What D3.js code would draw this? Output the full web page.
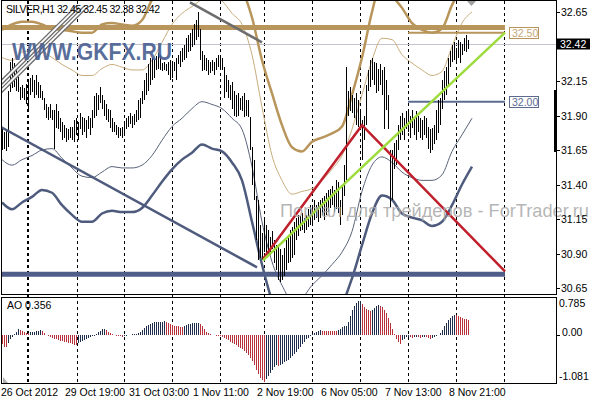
<!DOCTYPE html>
<html><head><meta charset="utf-8">
<script src="https://cdn.jsdelivr.net/npm/d3@7"></script>
<style>
html,body{margin:0;padding:0;background:#fff;}
svg{display:block;}
text{font-family:"Liberation Sans",Arial,sans-serif;}
</style></head><body>
<svg id="c" width="596" height="400"></svg>
<script>
// ---------- DATA ----------
const symbolTitle = "SILVER,H1  32.45 32.45 32.38 32.42";
const aoTitle = "AO 0.356";
const highs = [
31.81,31.78,31.80,32.08,32.29,32.32,32.28,32.23,32.18,32.11,
32.12,32.10,32.13,32.16,32.17,32.19,32.16,32.19,32.14,32.12,
32.08,32.03,31.98,31.96,31.98,31.94,31.94,31.98,31.93,31.88,
31.85,31.83,31.81,31.80,31.82,31.82,31.87,31.88,31.85,31.92,
31.89,31.88,31.87,31.90,31.88,31.94,32.04,32.06,32.05,32.11,
32.05,32.01,31.98,31.95,31.94,31.88,31.85,31.83,31.82,31.81,
31.82,31.85,31.88,31.90,31.92,31.90,31.91,31.94,32.01,32.03,
32.08,32.16,32.21,32.27,32.32,32.32,32.30,32.33,32.35,32.34,
32.28,32.29,32.27,32.29,32.30,32.27,32.29,32.32,32.34,32.37,
32.39,32.41,32.46,32.48,32.50,32.53,32.56,32.59,32.65,32.53,
32.37,32.34,32.32,32.30,32.29,32.30,32.29,32.32,32.34,32.32,
32.32,32.25,32.19,32.16,32.12,32.14,32.08,32.05,32.06,32.03,
32.04,32.06,32.01,32.01,31.89,31.67,31.58,31.32,31.29,31.11,
31.05,31.14,31.11,31.07,31.02,31.06,31.00,30.96,30.95,30.93,
30.89,30.94,31.00,31.03,31.07,31.09,31.13,31.16,31.18,31.17,
31.19,31.16,31.18,31.22,31.25,31.23,31.29,31.25,31.27,31.29,
31.30,31.32,31.34,31.36,31.37,31.39,31.36,31.43,31.42,31.29,
31.40,31.54,32.25,32.08,32.11,32.05,32.03,32.06,32.01,31.94,
31.87,31.90,32.12,32.23,32.30,32.32,32.29,32.28,32.24,32.27,
32.23,32.25,32.16,32.05,31.65,31.65,31.70,31.72,31.83,31.90,
31.92,31.88,31.93,31.94,31.90,31.94,31.88,31.93,31.90,31.88,
31.87,31.90,31.88,31.82,31.80,31.81,31.83,31.94,32.01,32.03,
32.16,32.22,32.25,32.32,32.37,32.41,32.43,32.39,32.45,32.43,
32.42,32.46,32.48,32.45];
const lows = [
31.65,31.66,31.64,31.67,32.07,32.10,32.11,32.08,32.07,32.01,
32.03,32.01,31.98,31.94,32.05,32.07,32.03,32.05,32.03,32.03,
32.01,31.94,31.88,31.87,31.88,31.87,31.66,31.81,31.80,31.78,
31.72,31.74,31.71,31.72,31.74,31.72,31.71,31.76,31.72,31.80,
31.76,31.78,31.74,31.80,31.76,31.81,31.88,31.90,31.94,31.99,
31.95,31.90,31.87,31.85,31.81,31.78,31.78,31.76,31.74,31.75,
31.74,31.75,31.80,31.82,31.84,31.81,31.83,31.85,31.87,31.88,
31.98,32.01,32.05,32.08,32.12,32.16,32.17,32.23,32.24,32.23,
32.22,32.23,32.22,32.19,32.16,32.17,32.22,32.16,32.27,32.25,
32.29,32.30,32.32,32.36,32.37,32.40,32.41,32.45,32.47,32.30,
32.22,32.23,32.22,32.19,32.21,32.22,32.19,32.23,32.25,32.24,
32.23,32.03,32.07,32.03,32.01,31.95,31.90,31.89,31.90,31.94,
31.93,31.89,31.90,31.89,31.65,31.40,31.29,31.00,30.85,30.87,
30.85,30.91,30.89,30.90,30.89,30.93,30.83,30.78,30.71,30.69,
30.71,30.74,30.78,30.83,30.84,30.87,30.89,31.00,31.03,31.06,
31.07,31.05,31.07,31.09,31.11,31.10,31.14,31.16,31.13,31.16,
31.18,31.14,31.18,31.20,31.23,31.25,31.20,31.22,31.19,31.11,
31.18,31.32,31.43,31.90,31.93,31.92,31.88,31.83,31.82,31.80,
31.58,31.72,31.83,32.08,32.11,32.16,32.12,32.06,32.08,32.12,
32.05,31.80,31.94,31.80,31.24,31.29,31.51,31.54,31.65,31.72,
31.76,31.72,31.80,31.78,31.74,31.81,31.76,31.72,31.78,31.74,
31.72,31.76,31.74,31.66,31.63,31.65,31.69,31.72,31.77,31.83,
31.95,32.01,32.05,32.12,32.25,32.29,32.30,32.28,32.32,32.28,
32.34,32.37,32.36,32.38];
const aoValues = [
-0.20,-0.27,-0.28,-0.18,-0.10,-0.04,0.03,0.08,0.13,0.12,
0.09,0.07,0.05,0.04,0.06,0.07,0.08,0.09,0.10,0.11,
0.09,0.05,0.01,-0.02,-0.04,-0.06,-0.08,-0.10,-0.12,-0.13,
-0.14,-0.15,-0.16,-0.18,-0.19,-0.20,-0.22,-0.24,-0.19,-0.16,
-0.13,-0.11,-0.09,-0.07,-0.05,-0.03,-0.01,0.02,0.06,0.10,
0.13,0.14,0.12,0.07,0.04,0.02,0.01,-0.01,-0.02,-0.03,
-0.04,-0.02,-0.01,0.00,0.01,0.015,0.02,0.03,0.05,0.08,
0.12,0.17,0.21,0.24,0.26,0.28,0.29,0.295,0.30,0.305,
0.31,0.315,0.29,0.27,0.25,0.23,0.22,0.21,0.20,0.195,
0.19,0.21,0.23,0.25,0.26,0.27,0.275,0.28,0.285,0.26,
0.20,0.14,0.08,0.04,0.02,0.01,0.00,-0.01,-0.02,-0.03,
-0.04,-0.06,-0.09,-0.12,-0.15,-0.18,-0.21,-0.24,-0.27,-0.30,
-0.33,-0.37,-0.41,-0.46,-0.52,-0.60,-0.70,-0.80,-0.90,-0.98,
-1.04,-1.081,-1.02,-0.95,-0.88,-0.80,-0.74,-0.70,-0.71,-0.68,
-0.66,-0.63,-0.60,-0.57,-0.53,-0.49,-0.44,-0.39,-0.33,-0.27,
-0.21,-0.15,-0.10,-0.06,-0.02,0.02,0.05,0.08,0.10,0.11,
0.10,0.095,0.09,0.088,0.086,0.085,0.084,0.083,0.12,0.15,
0.18,0.20,0.21,0.30,0.45,0.58,0.68,0.74,0.78,0.785,
0.72,0.65,0.60,0.57,0.56,0.58,0.63,0.67,0.69,0.68,
0.64,0.58,0.50,0.40,0.28,0.15,0.03,-0.08,-0.16,-0.20,
-0.12,-0.08,-0.05,-0.04,-0.05,-0.06,-0.05,-0.04,-0.05,-0.06,
-0.05,-0.04,-0.05,-0.06,-0.08,-0.07,-0.05,-0.03,0.00,0.05,
0.12,0.20,0.28,0.35,0.40,0.44,0.47,0.46,0.43,0.41,
0.39,0.38,0.37,0.356];
// envelope lines sampled every 5 bars
const bandIdx = d3.range(0, 240, 5);
const upperWide = [32.52,32.56,32.58,32.58,32.56,32.53,32.52,32.51,32.50,32.50,32.56,32.57,32.56,32.55,32.59,32.74,32.85,32.92,32.95,32.99,33.01,32.99,32.95,32.88,32.81,32.61,32.30,32.06,31.83,31.67,31.64,31.71,31.74,31.77,31.82,32.05,32.32,32.65,32.88,32.77,32.68,32.57,32.52,32.50,32.53,32.70,32.82,32.88];
const upperNarrow = [32.32,32.30,32.36,32.37,32.36,32.32,32.27,32.23,32.19,32.19,32.24,32.27,32.25,32.23,32.23,32.30,32.43,32.56,32.64,32.69,32.74,32.76,32.73,32.64,32.56,32.34,31.96,31.61,31.43,31.33,31.35,31.37,31.43,31.51,31.61,31.80,32.05,32.30,32.46,32.45,32.34,32.28,32.23,32.19,32.22,32.40,32.57,32.65];
const lowerNarrow = [31.58,31.54,31.58,31.61,31.65,31.66,31.59,31.52,31.46,31.45,31.49,31.53,31.52,31.52,31.54,31.61,31.72,31.82,31.88,31.95,32.00,31.98,31.95,31.88,31.80,31.53,31.13,30.84,30.67,30.56,30.58,30.67,30.74,30.82,30.91,31.06,31.35,31.54,31.60,31.56,31.49,31.45,31.43,31.43,31.47,31.64,31.76,31.88];
const lowerWide = [31.27,31.22,31.27,31.31,31.36,31.34,31.25,31.18,31.13,31.13,31.19,31.21,31.20,31.20,31.23,31.32,31.42,31.51,31.58,31.63,31.69,31.66,31.64,31.56,31.43,31.13,30.82,30.56,30.42,30.35,30.35,30.38,30.42,30.45,30.53,30.72,30.96,31.19,31.32,31.29,31.19,31.16,31.14,31.10,31.13,31.25,31.40,31.53];
// day separators (bar index)
const separators = [12.5, 13, 37.5, 61, 85, 109, 131, 155, 179, 203, 227, 251];
const timeTickIdx = [0, 32, 64, 96, 128, 160, 192, 224];
const timeTickLabels = ["26 Oct 2012","29 Oct 19:00","31 Oct 03:00","1 Nov 11:00","2 Nov 19:00","6 Nov 05:00","7 Nov 13:00","8 Nov 21:00"];
const priceTicks = [32.65, 32.15, 31.90, 31.65, 31.40, 31.15, 30.90, 30.65];
const aoTicks = [0.785, 0.00, -1.081];
const aoTickLabels = ["0.785", "0.00", "-1.081"];
const lastPrice = 32.42;
const bandLevel = 32.537, supportLevel = 30.75;
const labeledLevels = [32.50, 32.00];
const labeledLevelStart = 203, levelEnd = 251.5;
// trend objects: [index, price] endpoints
const greenLine = [[130.5, 30.85], [251.5, 32.50]];
const redLine = [[130.5, 30.86], [180, 31.83], [251.5, 30.77]];
const blueTrend = [[-1, 31.82], [127.5, 30.80]];
const grayTrend = [[94, 32.72], [130, 32.43]];
const channel1 = [[-1, 32.13], [38, 32.69]];
const channel2 = [[-1, 32.07], [42, 32.69]];

// ---------- CHART ----------
const svg = d3.select("#c");
const x = d3.scaleLinear().domain([0, 277]).range([2, 556]);
const y = d3.scaleLinear().domain([30.65, 32.65]).range([288, 12]);
const ya = d3.scaleLinear().domain([-1.081, 0.785]).range([382, 301]);
const px = i => Math.round(x(i)) + 0.5;

const TAN = "#b8955a", TAN_L = "#c9ad7e", BLUE = "#4e5b7d", BLUE_L = "#59637a";

const defs = svg.append("defs");
defs.append("clipPath").attr("id","cm").append("rect").attr("x",2).attr("y",1).attr("width",554).attr("height",294);
defs.append("clipPath").attr("id","ca").append("rect").attr("x",2).attr("y",298).attr("width",554).attr("height",85);

svg.append("rect").attr("width",596).attr("height",400).attr("fill","#fff");

// separators
svg.append("g").selectAll("line").data(separators).join("line")
  .attr("x1", d => px(d)).attr("x2", d => px(d)).attr("y1", 1).attr("y2", 383)
  .attr("stroke","#000").attr("stroke-width",1).attr("stroke-dasharray","3,3");

const main = svg.append("g").attr("clip-path","url(#cm)");

// bid line
main.append("line").attr("x1",2).attr("x2",556).attr("y1",Math.round(y(lastPrice))+0.5).attr("y2",Math.round(y(lastPrice))+0.5)
  .attr("stroke","#c4c4d0").attr("stroke-width",1);

// envelopes
const bandLine = arr => d3.line().x((d,i)=>x(bandIdx[i])).y(d=>y(d)).curve(d3.curveMonotoneX)(arr);
main.append("path").attr("d", bandLine(upperNarrow)).attr("fill","none").attr("stroke",TAN_L).attr("stroke-width",1);
main.append("path").attr("d", bandLine(lowerNarrow)).attr("fill","none").attr("stroke",BLUE_L).attr("stroke-width",1);
main.append("path").attr("d", bandLine(upperWide)).attr("fill","none").attr("stroke",TAN).attr("stroke-width",2.5);
main.append("path").attr("d", bandLine(lowerWide)).attr("fill","none").attr("stroke",BLUE).attr("stroke-width",2.5);

// horizontal levels
main.append("line").attr("x1",x(-1)).attr("x2",x(levelEnd)).attr("y1",y(bandLevel)).attr("y2",y(bandLevel))
  .attr("stroke",TAN).attr("stroke-width",5);
main.append("line").attr("x1",x(-1)).attr("x2",x(levelEnd)).attr("y1",y(supportLevel)).attr("y2",y(supportLevel))
  .attr("stroke","#4f5d88").attr("stroke-width",5);
const lvlColors = [TAN, "#5d6b8e"];
main.selectAll(".lvl").data(labeledLevels).join("line")
  .attr("x1",x(labeledLevelStart)).attr("x2",x(levelEnd)).attr("y1",d=>y(d)).attr("y2",d=>y(d))
  .attr("stroke",(d,i)=>lvlColors[i]).attr("stroke-width",2);

// price bars
main.append("g").selectAll("line").data(highs).join("line")
  .attr("x1",(d,i)=>px(i)).attr("x2",(d,i)=>px(i))
  .attr("y1",d=>y(d)).attr("y2",(d,i)=>y(lows[i]))
  .attr("stroke","#000").attr("stroke-width",1).attr("shape-rendering","crispEdges");

// trend objects
const tl = d3.line().x(d=>x(d[0])).y(d=>y(d[1]));
[channel1, channel2].forEach(c => {
  main.append("path").attr("d", tl(c)).attr("stroke","#6e6e6e").attr("stroke-width",4.5).attr("fill","none");
  main.append("path").attr("d", tl(c)).attr("stroke","#fff").attr("stroke-width",1.8).attr("fill","none");
});
main.append("path").attr("d", tl(blueTrend)).attr("stroke",BLUE).attr("stroke-width",2.5).attr("fill","none");
main.append("path").attr("d", tl(grayTrend)).attr("stroke","#6d6d6d").attr("stroke-width",2.5).attr("fill","none");
main.append("path").attr("d", tl(redLine)).attr("stroke","#c0202c").attr("stroke-width",2.5).attr("fill","none");
main.append("path").attr("d", tl(greenLine)).attr("stroke","#9ddc3c").attr("stroke-width",2.5).attr("fill","none");

// watermarks
main.append("text").attr("x",12).attr("y",60).attr("font-size",23).attr("font-weight","bold")
  .attr("fill","#4a5f92").attr("fill-opacity",0.92).attr("textLength",160).attr("lengthAdjust","spacingAndGlyphs")
  .text("WWW.GKFX.RU");
svg.append("text").attr("x",280).attr("y",217).attr("font-size",19)
  .attr("fill","#a8a8a8").attr("fill-opacity",0.85).attr("textLength",309).attr("lengthAdjust","spacingAndGlyphs")
  .text("Портал для трейдеров - ForTrader.ru");

// title
svg.append("text").attr("x",6).attr("y",13).attr("font-size",10.5).attr("fill","#000")
  .attr("textLength",154).attr("lengthAdjust","spacing").text(symbolTitle);

// chart shift marker
svg.append("path").attr("d", `M${x(232.5)},1 L${x(237)},1 L${x(234.75)},6 Z`).attr("fill","#a0a0a0");

// level labels
labeledLevels.forEach((v,i) => {
  const g = svg.append("g");
  g.append("rect").attr("x",x(levelEnd)+4.5).attr("y",Math.round(y(v))-5.5).attr("width",29).attr("height",11)
    .attr("fill","#fff").attr("stroke",lvlColors[i]).attr("stroke-width",1);
  g.append("text").attr("x",x(levelEnd)+7).attr("y",y(v)+4).attr("font-size",10.5)
    .attr("fill",i===0?"#c4a878":"#5d6b8e").text(v.toFixed(2));
});

// panel borders
svg.append("rect").attr("x",1.5).attr("y",0.5).attr("width",555).attr("height",294).attr("fill","none").attr("stroke","#000");
svg.append("rect").attr("x",1.5).attr("y",297.5).attr("width",555).attr("height",86).attr("fill","none").attr("stroke","#000");

// price axis
const pa = svg.append("g");
pa.selectAll("text").data(priceTicks).join("text")
  .attr("x",561).attr("y",d=>y(d)+4).attr("font-size",10.5).attr("fill","#000").text(d=>d.toFixed(2));
pa.selectAll("line").data(priceTicks).join("line")
  .attr("x1",557).attr("x2",560).attr("y1",d=>Math.round(y(d))+0.5).attr("y2",d=>Math.round(y(d))+0.5).attr("stroke","#000");
svg.append("rect").attr("x",554).attr("y",90).attr("width",3).attr("height",62).attr("fill","#000");
svg.append("rect").attr("x",557).attr("y",Math.round(y(lastPrice))-5.5).attr("width",33).attr("height",11).attr("fill","#000");
svg.append("text").attr("x",560).attr("y",y(lastPrice)+4).attr("font-size",10.5).attr("fill","#fff").text(lastPrice.toFixed(2));

// AO panel
const ao = svg.append("g").attr("clip-path","url(#ca)");
ao.selectAll("line").data(aoValues).join("line")
  .attr("x1",(d,i)=>px(i)).attr("x2",(d,i)=>px(i))
  .attr("y1",ya(0)).attr("y2",d=>ya(d))
  .attr("stroke",(d,i)=> (i>0 && d>aoValues[i-1]) ? "#1f2d4c" : "#b7303a")
  .attr("stroke-width",1).attr("shape-rendering","crispEdges");
svg.append("text").attr("x",7).attr("y",309).attr("font-size",10.5).attr("fill","#000").text(aoTitle);
svg.append("path").attr("d","M3,383 L3,377 L8,383 Z").attr("fill","#b0b0b0");
const aoLabelY = [307, 336, 380];
svg.selectAll(".aol").data(aoTicks).join("text")
  .attr("x",(d,i)=>i===1?562:559).attr("y",(d,i)=>aoLabelY[i]).attr("font-size",10.5).attr("fill","#000")
  .text((d,i)=>aoTickLabels[i]);
svg.append("line").attr("x1",557).attr("x2",560).attr("y1",Math.round(ya(0))+0.5).attr("y2",Math.round(ya(0))+0.5).attr("stroke","#000");

// time axis
svg.selectAll(".tl").data(timeTickIdx).join("text")
  .attr("x",d=>x(d)-1).attr("y",396).attr("font-size",10.5).attr("fill","#000")
  .text((d,i)=>timeTickLabels[i]);
</script>
</body></html>
